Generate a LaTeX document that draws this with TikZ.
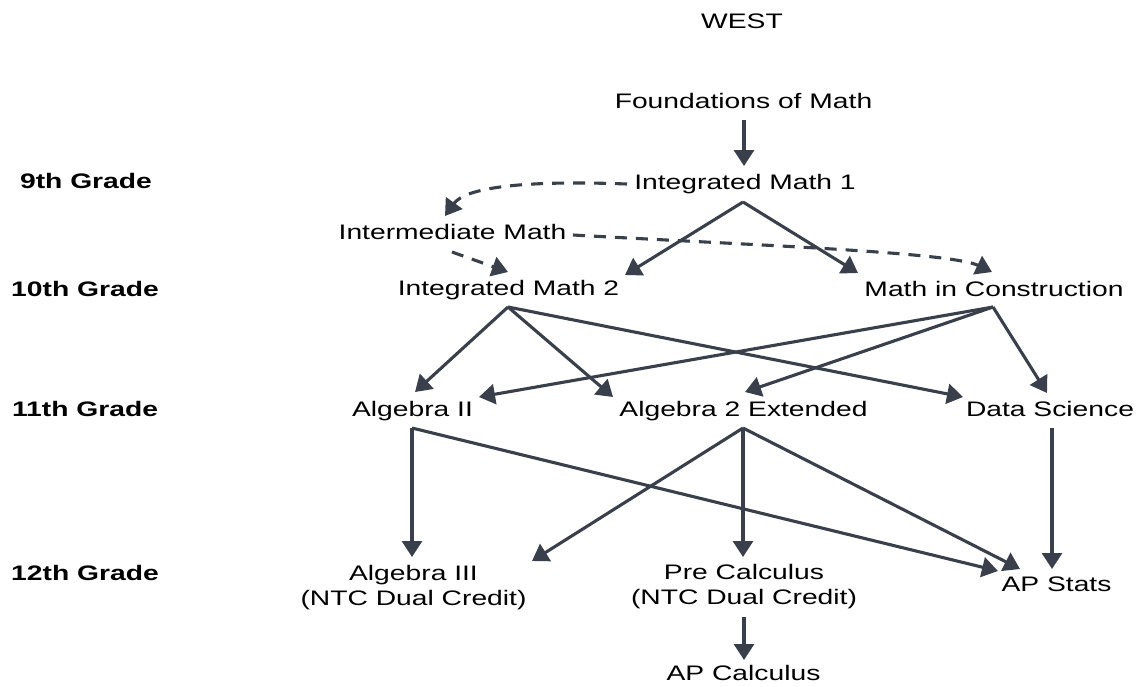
\documentclass[tikz,border=0pt]{standalone}
\usepackage{fontspec}
\usepackage{graphicx}
\setmainfont{Liberation Sans}
\usetikzlibrary{arrows.meta,calc}
\definecolor{edge}{HTML}{3A404B}
\newcommand{\hs}[1]{\scalebox{1.345}[1]{#1}}
\begin{document}
\begin{tikzpicture}[x=1pt,y=-1pt,
  lbl/.style={inner sep=0pt, anchor=base, font=\fontsize{21}{25}\selectfont},
  grade/.style={lbl, font=\fontsize{21}{25}\selectfont\bfseries},
  conn/.style={draw=edge, line width=3.1pt, -{Triangle[length=16pt,width=20pt]}},
  dconn/.style={conn, dash pattern=on 12pt off 9pt}]
\useasboundingbox (0,0) rectangle (1139,686);

% title
\node[lbl] (west) at (742,28) {\hs{WEST}};

% grade labels
\node[grade] (g9)  at (86,188) {\hs{9th Grade}};
\node[grade] (g10) at (85,296) {\hs{10th Grade}};
\node[grade] (g11) at (85,416) {\hs{11th Grade}};
\node[grade] (g12) at (85,580) {\hs{12th Grade}};

% courses
\node[lbl] (found) at (743.5,108) {\hs{Foundations of Math}};
\node[lbl] (im1)   at (745,189)   {\hs{Integrated Math 1}};
\node[lbl] (inter) at (452.5,239) {\hs{Intermediate Math}};
\node[lbl] (im2)   at (508.5,295) {\hs{Integrated Math 2}};
\node[lbl] (mic)   at (994,296)   {\hs{Math in Construction}};
\node[lbl] (alg2)  at (412.5,416) {\hs{Algebra II}};
\node[lbl] (a2e)   at (743.5,416) {\hs{Algebra 2 Extended}};
\node[lbl] (ds)    at (1050,416)  {\hs{Data Science}};
\node[lbl] (alg3)  at (413.5,580) {\hs{\begin{tabular}[t]{@{}c@{}}Algebra III\\(NTC Dual Credit)\end{tabular}}};
\node[lbl] (pre)   at (744,579)   {\hs{\begin{tabular}[t]{@{}c@{}}Pre Calculus\\(NTC Dual Credit)\end{tabular}}};
\node[lbl] (aps)   at (1056.5,591){\hs{AP Stats}};
\node[lbl] (apc)   at (743.5,680) {\hs{AP Calculus}};

% solid connectors
\draw[conn] ($(found.base)+(0.5,12)$) -- ($(im1.base)+(-1,-23)$);
\draw[conn] ($(im1.base)+(-2,13)$) -- ($(im2.base)+(116.5,-20)$);
\draw[conn] ($(im1.base)+(-2,13)$) -- ($(mic.base)+(-136,-23)$);

\draw[conn] ($(im2.base)+(-0.5,12)$) -- ($(alg2.base)+(2.5,-24)$);
\draw[conn] ($(im2.base)+(-0.5,12)$) -- ($(a2e.base)+(-130.5,-19)$);
\draw[conn] ($(im2.base)+(-0.5,12)$) -- ($(ds.base)+(-87,-19)$);
\draw[conn] ($(mic.base)+(-1,11)$) -- ($(alg2.base)+(66.5,-19)$);
\draw[conn] ($(mic.base)+(-1,11)$) -- ($(a2e.base)+(1.5,-24)$);
\draw[conn] ($(mic.base)+(-1,11)$) -- ($(ds.base)+(-3,-23)$);

\draw[conn] ($(alg2.base)+(-0.5,12)$) -- ($(alg3.base)+(-1.5,-23)$);
\draw[conn] ($(alg2.base)+(-0.5,12)$) -- ($(aps.base)+(-58.5,-20)$);
\draw[conn] ($(a2e.base)+(-0.5,12)$) -- ($(alg3.base)+(118.5,-19)$);
\draw[conn] ($(a2e.base)+(-0.5,12)$) -- ($(pre.base)+(-1,-22)$);
\draw[conn] ($(a2e.base)+(-0.5,12)$) -- ($(aps.base)+(-36.5,-22)$);
\draw[conn] ($(ds.base)+(2,12)$) -- ($(aps.base)+(-4.5,-22)$);
\draw[conn] ($(pre.base)+(0,38)$) -- ($(apc.base)+(0.5,-20)$);

% dashed connectors
\draw[dconn] ($(im1.base)+(-118,-5)$) .. controls ($(inter.base)+(67.5,-59)$) and ($(inter.base)+(12.5,-51)$) .. ($(inter.base)+(-7.5,-23)$);
\draw[dconn] ($(inter.base)+(-0.5,13)$) -- ($(im2.base)+(-0.5,-23)$);
\draw[dconn] ($(inter.base)+(120.5,-4)$) .. controls ($(mic.base)+(-244,-51)$) and ($(mic.base)+(-44,-44)$) .. ($(mic.base)+(-2,-24)$);
\end{tikzpicture}
\end{document}
